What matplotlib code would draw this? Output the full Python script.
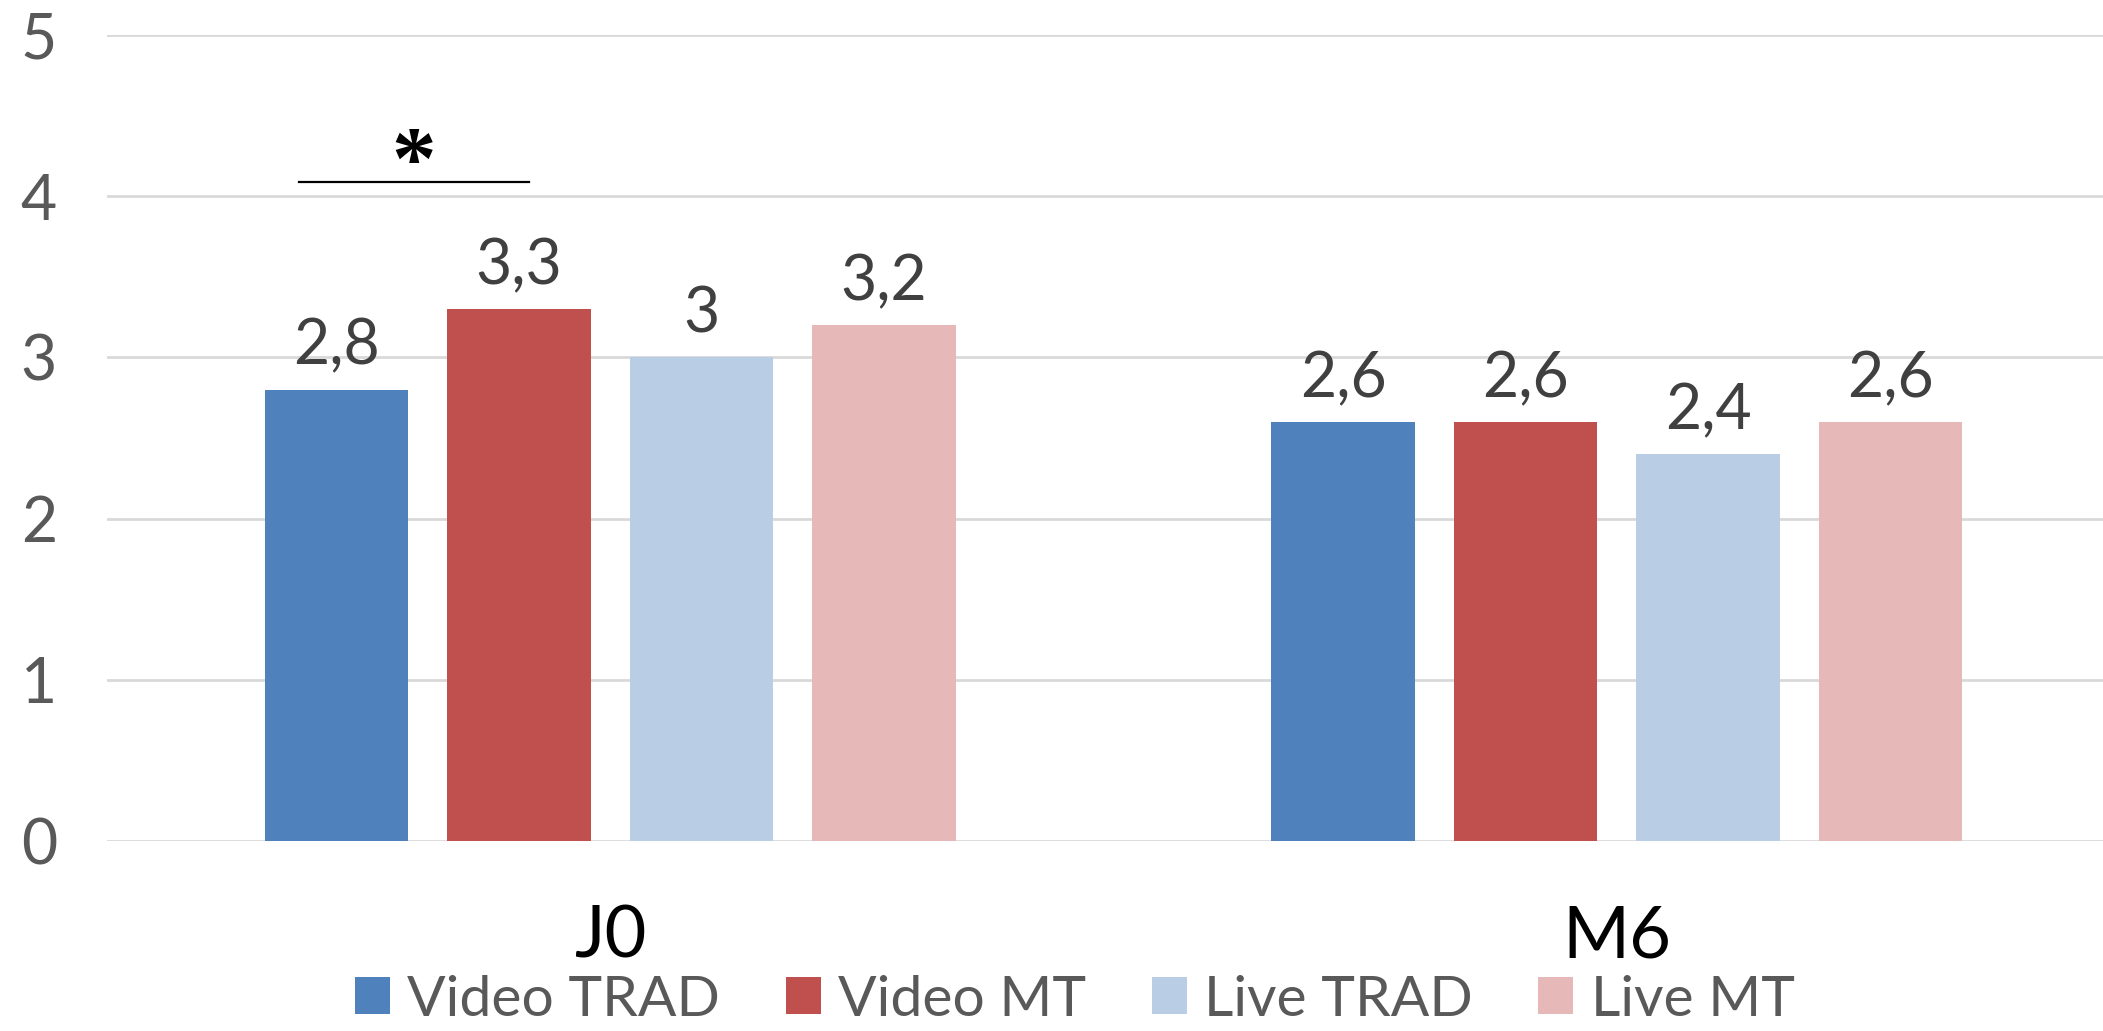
import matplotlib
matplotlib.use("Agg")
import matplotlib.pyplot as plt
import numpy as np

# Scores per time point for each group
categories = ["J0", "M6"]
series_names = ["Video TRAD", "Video MT", "Live TRAD", "Live MT"]
video_trad = [2.8, 2.6]
video_mt = [3.3, 2.6]
live_trad = [3.0, 2.4]
live_mt = [3.2, 2.6]
series_values = [video_trad, video_mt, live_trad, live_mt]
colors = ["#4F81BD", "#C0504D", "#B9CDE5", "#E6B9B8"]
y_ticks = [0, 1, 2, 3, 4, 5]

plt.rcParams["font.family"] = ["Lato", "DejaVu Sans"]

fig = plt.figure(figsize=(21.03, 10.31), dpi=100)
ax = fig.add_axes([0.0509, 0.1843, 0.9491, 0.7817])

x = np.arange(len(categories))
width = 0.1427
step = 0.1813
offsets = (np.arange(len(series_names)) - 1.5) * step

def fmt(v):
    s = f"{v:.1f}".replace(".", ",")
    return s[:-2] if s.endswith(",0") else s

for vals, name, col, off in zip(series_values, series_names, colors, offsets):
    bars = ax.bar(x + off, vals, width, color=col, label=name, zorder=3)
    for b, v in zip(bars, vals):
        ax.annotate(fmt(v), (b.get_x() + b.get_width() / 2, v),
                    xytext=(0, 18), textcoords="offset points",
                    ha="center", va="baseline", fontsize=45, color="#404040")

ax.set_ylim(0, 5)
ax.set_xlim(-0.5, 1.483)
ax.set_yticks(y_ticks)
ax.set_yticklabels([str(t) for t in y_ticks], fontsize=45, color="#595959")
ax.tick_params(axis="y", length=0, pad=36)
ax.tick_params(axis="x", length=0, pad=46)
ax.set_xticks(x)
ax.set_xticklabels(categories, fontsize=52, color="black")
ax.grid(axis="y", color="#D9D9D9", linewidth=2, zorder=0)
for s in ax.spines.values():
    s.set_visible(False)

# Significance bracket between Video TRAD and Video MT at J0
ax.plot([-0.309, -0.081], [4.09, 4.09], color="black", linewidth=1.6, zorder=4, clip_on=False)
ax.text(-0.195, 4.06, "*", ha="center", va="baseline", fontsize=64,
        fontweight="bold", family="Liberation Serif", color="black")

leg = fig.legend(loc="center", bbox_to_anchor=(0.511, 0.03), ncol=4, frameon=False,
                 fontsize=41, handlelength=0.62, handleheight=0.62,
                 handletextpad=0.3, columnspacing=1.15, borderpad=0.1)
for t in leg.get_texts():
    t.set_color("#595959")

fig.savefig("out.png", dpi=100)
